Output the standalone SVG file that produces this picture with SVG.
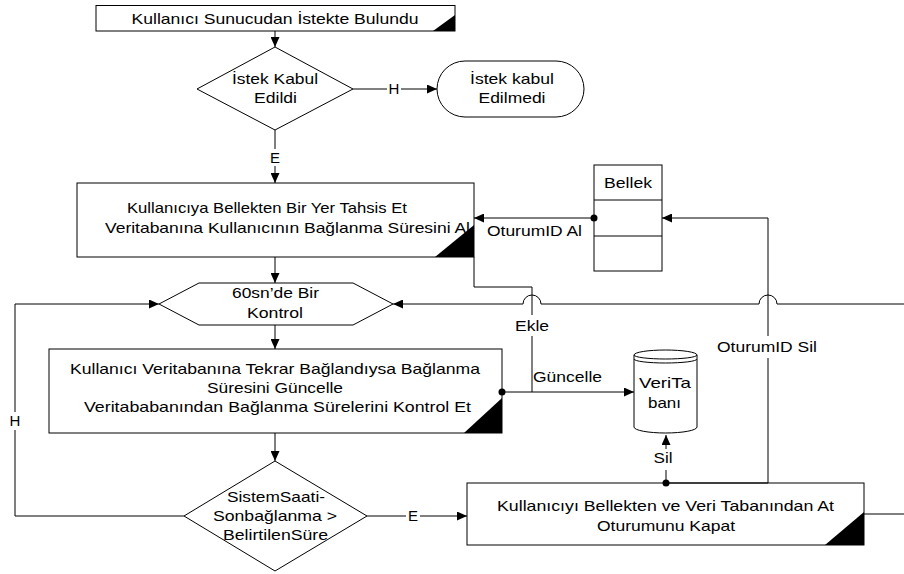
<svg xmlns="http://www.w3.org/2000/svg" width="904" height="574" viewBox="0 0 904 574">
<style>
.s{fill:#fff;stroke:#000;stroke-width:1}
.k{fill:#000;stroke:none}
.t{font-family:"Liberation Sans",Arial,sans-serif;font-size:15px;fill:#000;text-anchor:middle}
.l{text-anchor:start}
.c{fill:none;stroke:#000;stroke-width:1}
</style>
<defs>
<marker id="a" markerUnits="userSpaceOnUse" markerWidth="11" markerHeight="9" refX="10" refY="4.5" orient="auto">
<path d="M0,0 L10,4.5 L0,9 z" fill="#000"/>
</marker>
</defs>
<rect width="904" height="574" fill="#fff"/>

<g id="start">
<rect class="s" x="96" y="5.5" width="359" height="25.5"/>
<path class="k" d="M433,31 H455 V15 z"/>
<text class="t" x="275" y="24" textLength="287" lengthAdjust="spacingAndGlyphs">Kullanıcı Sunucudan İstekte Bulundu</text>
</g>

<g id="decision1">
<path class="s" d="M275,47 L353,89 L275,130 L197,89 z"/>
<text class="t" x="275" y="84" textLength="86" lengthAdjust="spacingAndGlyphs">İstek Kabul</text>
<text class="t" x="275.5" y="103" textLength="43" lengthAdjust="spacingAndGlyphs">Edildi</text>
</g>

<g id="rejected">
<rect class="s" x="437" y="61" width="147" height="56" rx="28" ry="28"/>
<text class="t" x="512" y="84" textLength="84" lengthAdjust="spacingAndGlyphs">İstek kabul</text>
<text class="t" x="512" y="103" textLength="67" lengthAdjust="spacingAndGlyphs">Edilmedi</text>
</g>

<g id="allocate">
<rect class="s" x="77" y="183" width="397" height="74"/>
<path class="k" d="M435,257 H474 V225 z"/>
<text class="t" x="267" y="213" textLength="280" lengthAdjust="spacingAndGlyphs">Kullanıcıya Bellekten Bir Yer Tahsis Et</text>
<text class="t" x="287.5" y="233" textLength="365" lengthAdjust="spacingAndGlyphs">Veritabanına Kullanıcının Bağlanma Süresini Al</text>
</g>

<g id="bellek">
<rect class="s" x="594" y="165" width="68" height="106"/>
<path class="c" d="M594,200 H662 M594,236 H662"/>
<text class="t" x="628" y="188" textLength="48" lengthAdjust="spacingAndGlyphs">Bellek</text>
</g>

<g id="loop">
<path class="s" d="M159,304 L199,283 H353 L393,304 L353,325 H199 z"/>
<text class="t" x="275.5" y="298" textLength="87" lengthAdjust="spacingAndGlyphs">60sn’de Bir</text>
<text class="t" x="275" y="318" textLength="56" lengthAdjust="spacingAndGlyphs">Kontrol</text>
</g>

<g id="update">
<rect class="s" x="49" y="349" width="453" height="84"/>
<path class="k" d="M464,433 H502 V398 z"/>
<text class="t" x="275" y="374" textLength="410" lengthAdjust="spacingAndGlyphs">Kullanıcı Veritabanına Tekrar Bağlandıysa Bağlanma</text>
<text class="t" x="275" y="393" textLength="136" lengthAdjust="spacingAndGlyphs">Süresini Güncelle</text>
<text class="t" x="277.5" y="412" textLength="387" lengthAdjust="spacingAndGlyphs">Veritababanından Bağlanma Sürelerini Kontrol Et</text>
</g>

<g id="veritabani">
<path class="s" d="M634,355 A31.5,5 0 0 1 697,355 V427 A31.5,6 0 0 1 634,427 z"/>
<path class="c" d="M634,355 A31.5,4 0 0 0 697,355 M634,359 A31.5,4 0 0 0 697,359"/>
<text class="t" x="665" y="388" textLength="52" lengthAdjust="spacingAndGlyphs">VeriTa</text>
<text class="t" x="664.5" y="408" textLength="33" lengthAdjust="spacingAndGlyphs">banı</text>
</g>

<g id="decision2">
<path class="s" d="M275,461 L367,516 L275,571 L184,516 z"/>
<text class="t" x="276" y="502" textLength="98" lengthAdjust="spacingAndGlyphs">SistemSaati-</text>
<text class="t" x="275" y="521" textLength="124" lengthAdjust="spacingAndGlyphs">Sonbağlanma &gt;</text>
<text class="t" x="275.5" y="540" textLength="105" lengthAdjust="spacingAndGlyphs">BelirtilenSüre</text>
</g>

<g id="logout">
<rect class="s" x="467" y="483" width="397" height="62"/>
<path class="k" d="M825,545 H864 V512 z"/>
<text class="t" x="665.5" y="511" textLength="337" lengthAdjust="spacingAndGlyphs">Kullanıcıyı Bellekten ve Veri Tabanından At</text>
<text class="t" x="666" y="531" textLength="138" lengthAdjust="spacingAndGlyphs">Oturumunu Kapat</text>
</g>

<g id="connectors">
<path class="c" d="M275,31 V47" marker-end="url(#a)"/>
<path class="c" d="M353,89 H387 M401,89 H437" marker-end="url(#a)"/>
<path class="c" d="M275,130 V149 M275,166 V183" marker-end="url(#a)"/>
<path class="c" d="M275,257 V283" marker-end="url(#a)"/>
<path class="c" d="M275,325 V349" marker-end="url(#a)"/>
<path class="c" d="M275,433 V461" marker-end="url(#a)"/>
<path class="c" d="M184,516 H15 V430 M15,412 V304 H159" marker-end="url(#a)"/>
<path class="c" d="M367,516 H406 M420,516 H467" marker-end="url(#a)"/>
<path class="c" d="M864,514 H904"/>
<path class="c" d="M904,304 H777 A9,9 0 0 0 759,304 H541 A9,9 0 0 0 523,304 H393" marker-end="url(#a)"/>
<path class="c" d="M474,257 V287 H532 V315 M532,336 V392"/>
<path class="c" d="M502,392 H634" marker-end="url(#a)"/>
<path class="c" d="M594,218 H474" marker-end="url(#a)"/>
<path class="c" d="M666,483 H768 V358 M768,336 V218 H662" marker-end="url(#a)"/>
<path class="c" d="M666,483 V470 M666,449 V435" marker-end="url(#a)"/>
<circle class="k" cx="594" cy="218" r="3.5"/>
<circle class="k" cx="502" cy="392" r="3.5"/>
<circle class="k" cx="666" cy="483" r="3.5"/>
<text class="t" x="394" y="94">H</text>
<text class="t" x="275" y="163">E</text>
<text class="t" x="15" y="426">H</text>
<text class="t" x="413" y="521">E</text>
<text class="t l" x="487" y="236" textLength="95" lengthAdjust="spacingAndGlyphs">OturumID Al</text>
<text class="t" x="532" y="331" textLength="34" lengthAdjust="spacingAndGlyphs">Ekle</text>
<text class="t l" x="533" y="382" textLength="69" lengthAdjust="spacingAndGlyphs">Güncelle</text>
<text class="t" x="767" y="352" textLength="100" lengthAdjust="spacingAndGlyphs">OturumID Sil</text>
<text class="t" x="663" y="463" textLength="19" lengthAdjust="spacingAndGlyphs">Sil</text>
</g>
</svg>
